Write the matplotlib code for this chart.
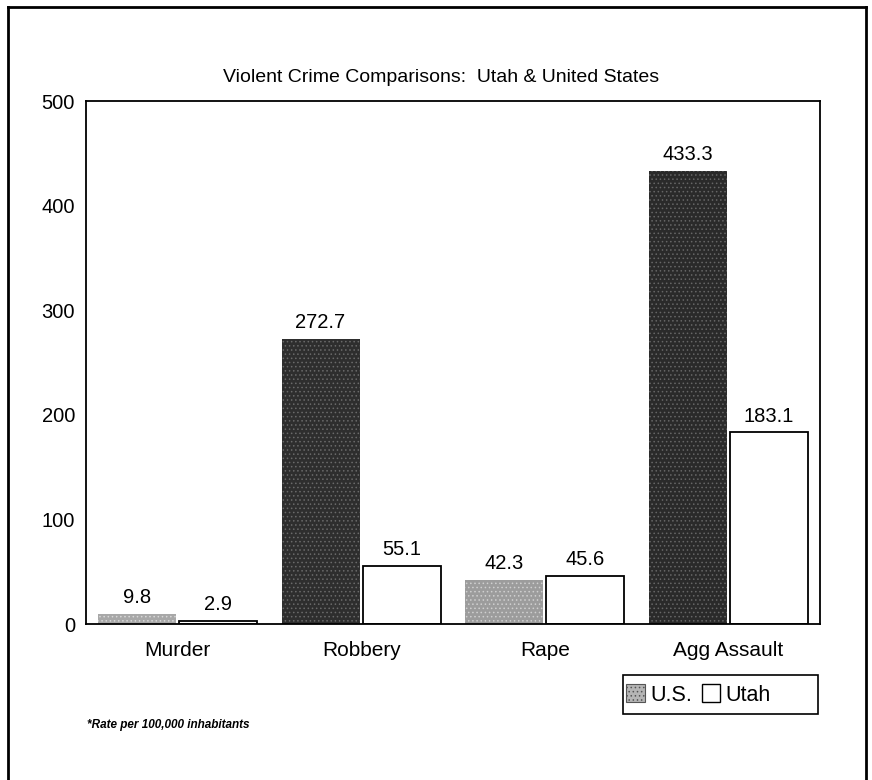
import matplotlib
matplotlib.use("Agg")
import matplotlib.pyplot as plt
from matplotlib.patches import Patch, Rectangle
from matplotlib.lines import Line2D
import numpy as np

# Dados (taxa por 100.000 habitantes)
categories = ["Murder", "Robbery", "Rape", "Agg Assault"]
us_values = [9.8, 272.7, 42.3, 433.3]
utah_values = [2.9, 55.1, 45.6, 183.1]
y_ticks = [0, 100, 200, 300, 400, 500]

plt.rcParams['font.family'] = ['Liberation Sans', 'DejaVu Sans']

fig = plt.figure(figsize=(8.72, 7.8), dpi=100)
ax = fig.add_axes([86 / 872, 1 - 624 / 780, 734 / 872, 523 / 780])

x = np.arange(len(categories))
width = 0.425
offset = 0.222

# cores das barras dos EUA (o scan deixa duas mais claras)
us_colors = ["#a8a8a8", "#2e2e2e", "#9c9c9c", "#2a2a2a"]
us_hatch = ["#d8d8d8", "#6a6a6a", "#cfcfcf", "#666666"]

plt.rcParams['hatch.linewidth'] = 0.6
for i in range(len(categories)):
    ax.bar(x[i] - offset, us_values[i], width, color=us_colors[i],
           edgecolor=us_hatch[i], linewidth=0, hatch='....')
ax.bar(x + offset, utah_values, width, color="white", edgecolor="black", linewidth=1.3)

# rótulos com os valores
for i in range(len(categories)):
    ax.annotate(f"{us_values[i]:.1f}", (x[i] - offset, us_values[i]),
                xytext=(0, 5), textcoords="offset points", ha="center", va="bottom", fontsize=14.5)
    ax.annotate(f"{utah_values[i]:.1f}", (x[i] + offset, utah_values[i]),
                xytext=(0, 5), textcoords="offset points", ha="center", va="bottom", fontsize=14.5)

ax.set_xlim(-0.5, len(categories) - 0.5)
ax.set_ylim(0, 500)
ax.set_yticks(y_ticks)
ax.set_xticks(x)
ax.set_xticklabels(categories, fontsize=15)
ax.tick_params(axis='both', length=0)
ax.tick_params(axis='y', pad=8, labelsize=14.5)
ax.tick_params(axis='x', pad=12)
for s in ax.spines.values():
    s.set_linewidth(1.3)
    s.set_color("black")

# título
fig.text(441 / 872, 1 - 78 / 780, "Violent Crime Comparisons:  Utah & United States",
         ha="center", va="center", fontsize=14)

# legenda (caixa desenhada à parte, mais larga que o conteúdo)
fig.add_artist(Rectangle((623 / 872, 1 - 714 / 780), 195 / 872, 39 / 780,
                         transform=fig.transFigure, facecolor="white",
                         edgecolor="black", linewidth=1.2))
handles = [Patch(facecolor="#b5b5b5", edgecolor="#555555", hatch='....', linewidth=0.8, label="U.S."),
           Patch(facecolor="white", edgecolor="black", linewidth=1.0, label="Utah")]
leg = fig.legend(handles=handles, ncol=2, loc="center left",
                 bbox_to_anchor=(622 / 872, 1 - 695 / 780), fontsize=15.5,
                 frameon=False, borderpad=0.2,
                 handlelength=0.85, handleheight=0.85, handletextpad=0.25,
                 columnspacing=0.45, borderaxespad=0)

# nota de rodapé
fig.text(87 / 872, 1 - 725 / 780, "*Rate per 100,000 inhabitants",
         ha="left", va="center", fontsize=8.5, style="italic", weight="bold",
         family=['Liberation Sans Narrow', 'Liberation Sans'])

# moldura do scan
frame_kw = dict(color="black", linewidth=2, transform=fig.transFigure)
fig.add_artist(Line2D([8 / 872, 8 / 872], [0, 1 - 7 / 780], **frame_kw))
fig.add_artist(Line2D([8 / 872, 866 / 872], [1 - 7 / 780, 1 - 7 / 780], **frame_kw))
fig.add_artist(Line2D([866 / 872, 866 / 872], [0, 1 - 7 / 780], **frame_kw))

fig.savefig("out.png", dpi=100)
